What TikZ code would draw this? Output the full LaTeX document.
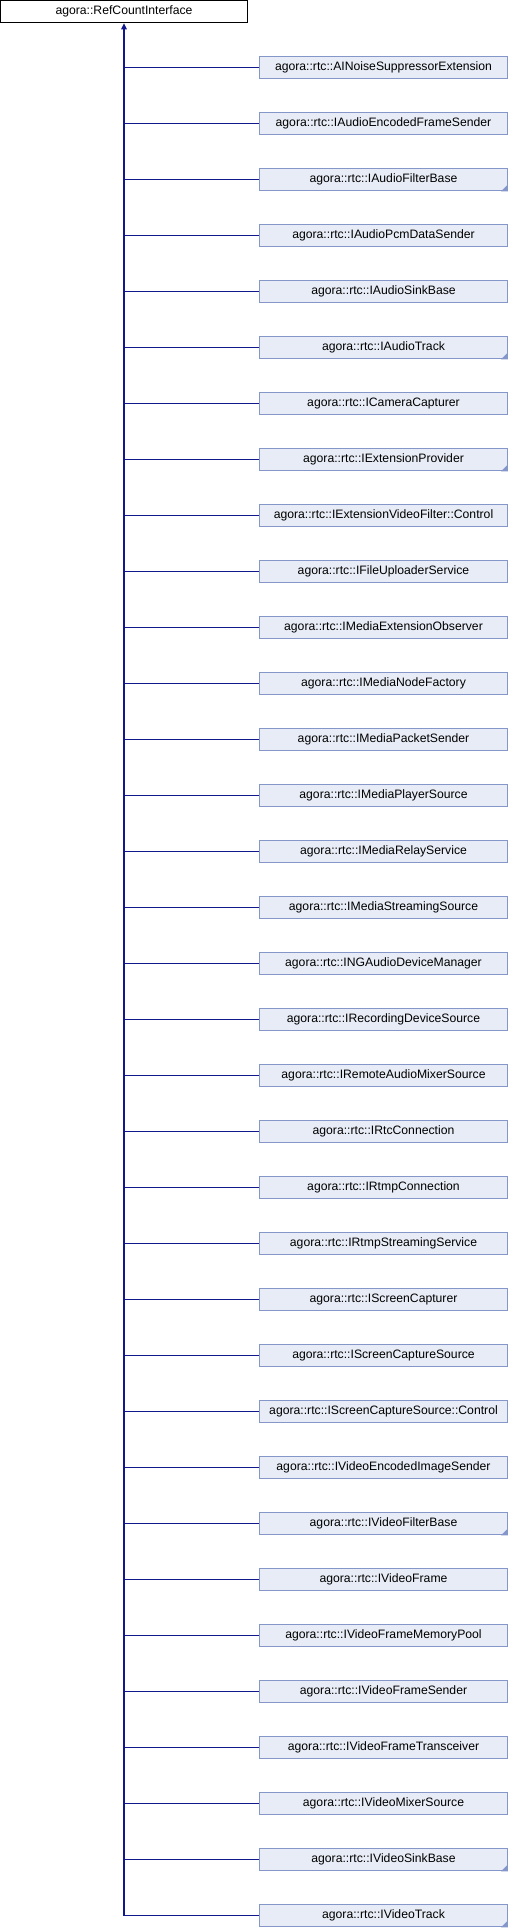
\documentclass[tikz,border=0pt]{standalone}
\usepackage{fontspec}
\setmainfont{Liberation Sans}
\usetikzlibrary{arrows.meta}
\definecolor{boxfill}{RGB}{232,236,246}
\definecolor{boxdraw}{RGB}{132,151,200}
\definecolor{edgecol}{RGB}{16,24,140}
\tikzset{
  rootbox/.style={draw=black, fill=white, line width=1pt, minimum width=247pt, minimum height=22.3pt, inner sep=0pt, font=\fontsize{12.2}{14}\selectfont},
  childbox/.style={draw=boxdraw, fill=boxfill, line width=1pt, minimum width=248pt, minimum height=22.3pt, inner sep=0pt, font=\fontsize{12.2}{14}\selectfont},
  edge/.style={draw=edgecol, line width=1.2pt},
  cornermark/.style={fill=boxdraw}
}
\begin{document}
\begin{tikzpicture}[x=1pt,y=-1pt]
\useasboundingbox (0,0) rectangle (508,1928);
\node[rootbox] (root) at (124,11.65) {agora::RefCountInterface};
\foreach \n/\t [count=\i from 0] in {
  agora::rtc::AINoiseSuppressorExtension/0,
  agora::rtc::IAudioEncodedFrameSender/0,
  agora::rtc::IAudioFilterBase/1,
  agora::rtc::IAudioPcmDataSender/0,
  agora::rtc::IAudioSinkBase/0,
  agora::rtc::IAudioTrack/1,
  agora::rtc::ICameraCapturer/0,
  agora::rtc::IExtensionProvider/1,
  agora::rtc::IExtensionVideoFilter::Control/0,
  agora::rtc::IFileUploaderService/0,
  agora::rtc::IMediaExtensionObserver/0,
  agora::rtc::IMediaNodeFactory/0,
  agora::rtc::IMediaPacketSender/0,
  agora::rtc::IMediaPlayerSource/0,
  agora::rtc::IMediaRelayService/0,
  agora::rtc::IMediaStreamingSource/0,
  agora::rtc::INGAudioDeviceManager/0,
  agora::rtc::IRecordingDeviceSource/0,
  agora::rtc::IRemoteAudioMixerSource/0,
  agora::rtc::IRtcConnection/0,
  agora::rtc::IRtmpConnection/0,
  agora::rtc::IRtmpStreamingService/0,
  agora::rtc::IScreenCapturer/0,
  agora::rtc::IScreenCaptureSource/0,
  agora::rtc::IScreenCaptureSource::Control/0,
  agora::rtc::IVideoEncodedImageSender/0,
  agora::rtc::IVideoFilterBase/1,
  agora::rtc::IVideoFrame/0,
  agora::rtc::IVideoFrameMemoryPool/0,
  agora::rtc::IVideoFrameSender/0,
  agora::rtc::IVideoFrameTransceiver/0,
  agora::rtc::IVideoMixerSource/0,
  agora::rtc::IVideoSinkBase/1,
  agora::rtc::IVideoTrack/1}
{
  \node[childbox] (c\i) at (383.5,{67.65+56*\i}) {\n};
  \ifnum\t=1
    \fill[cornermark] (c\i.south east) -- ++(0,-7) -- ++(-7,7) -- cycle;
  \fi
  \ifnum\i<33
    \draw[edge] (root.south |- c\i.west) -- (c\i.west);
  \fi
}
\coordinate (trunkend) at (root.south |- c33.west);
\draw[edge, {Triangle[length=6pt,width=5.5pt]}-] (root.south) -- (trunkend) -- (c33.west);
\end{tikzpicture}
\end{document}
